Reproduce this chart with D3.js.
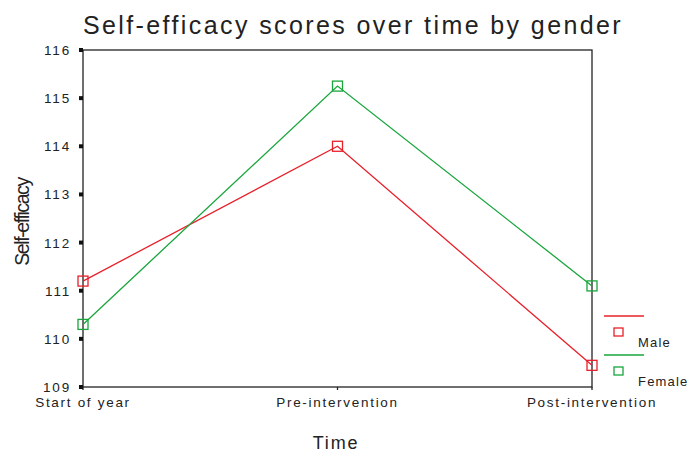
<!DOCTYPE html>
<html>
<head>
<meta charset="utf-8">
<script src="https://cdn.jsdelivr.net/npm/d3@7"></script>
<style>
  body { margin: 0; background: #fff; }
  text { font-family: "Liberation Sans", Arial, sans-serif; fill: #222; }
</style>
</head>
<body>
<div id="chart"></div>
<script>
// data
const categories = ["Start of year", "Pre-intervention", "Post-intervention"];
const maleScores = [111.2, 114.0, 109.45];
const femaleScores = [110.3, 115.25, 111.1];
const yTicks = [109, 110, 111, 112, 113, 114, 115, 116];

const series = [
  { name: "Male", values: maleScores, color: "#e8202a" },
  { name: "Female", values: femaleScores, color: "#18a63c" }
];

const width = 688, height = 452;
const margins = { top: 50, bottom: 65, left: 83, right: 96 };

const svg = d3.select("#chart").append("svg")
  .attr("width", width)
  .attr("height", height);

const xScale = d3.scalePoint()
  .domain(categories)
  .range([margins.left, width - margins.right]);

const yScale = d3.scaleLinear()
  .domain([109, 116])
  .range([height - margins.bottom, margins.top]);

// title
svg.append("text")
  .attr("x", 353).attr("y", 34)
  .attr("text-anchor", "middle")
  .attr("font-size", 25)
  .attr("letter-spacing", 2.4)
  .text("Self-efficacy scores over time by gender");

// frame
svg.append("rect")
  .attr("x", margins.left).attr("y", margins.top)
  .attr("width", width - margins.right - margins.left)
  .attr("height", height - margins.bottom - margins.top)
  .attr("fill", "none").attr("stroke", "#222").attr("stroke-width", 1.3);

// y axis: square tick marks and labels
const yAxis = svg.append("g");
yAxis.selectAll("rect")
  .data(yTicks)
  .join("rect")
  .attr("x", margins.left - 4)
  .attr("y", d => yScale(d) - 2)
  .attr("width", 4).attr("height", 4)
  .attr("fill", "#111");
yAxis.selectAll("text")
  .data(yTicks)
  .join("text")
  .attr("x", margins.left - 12)
  .attr("y", d => yScale(d) + 5)
  .attr("text-anchor", "end")
  .attr("font-size", 13.5)
  .attr("letter-spacing", 1.8)
  .text(d => d);

// x axis ticks and labels
const xAxis = svg.append("g");
xAxis.selectAll("line")
  .data(categories)
  .join("line")
  .attr("x1", d => xScale(d)).attr("x2", d => xScale(d))
  .attr("y1", height - margins.bottom).attr("y2", height - margins.bottom + 3)
  .attr("stroke", "#222").attr("stroke-width", 1.3);
xAxis.selectAll("text")
  .data(categories)
  .join("text")
  .attr("x", d => xScale(d))
  .attr("y", height - margins.bottom + 20)
  .attr("text-anchor", "middle")
  .attr("font-size", 13.5)
  .attr("letter-spacing", 1.7)
  .text(d => d);

// axis titles
svg.append("text")
  .attr("x", 336).attr("y", 449)
  .attr("text-anchor", "middle")
  .attr("font-size", 18)
  .attr("letter-spacing", 1.8)
  .text("Time");

svg.append("text")
  .attr("transform", "translate(29,222) rotate(-90)")
  .attr("text-anchor", "middle")
  .attr("font-size", 19.5)
  .attr("letter-spacing", -1.4)
  .text("Self-efficacy");

// lines + markers
const line = d3.line()
  .x((d, i) => xScale(categories[i]))
  .y(d => yScale(d));

const groups = svg.selectAll("g.series")
  .data(series)
  .join("g")
  .attr("class", "series");

groups.append("path")
  .attr("d", d => line(d.values))
  .attr("fill", "none")
  .attr("stroke", d => d.color)
  .attr("stroke-width", 1.3);

groups.each(function(s) {
  d3.select(this).selectAll("rect")
    .data(s.values)
    .join("rect")
    .attr("x", (d, i) => xScale(categories[i]) - 5)
    .attr("y", d => yScale(d) - 5)
    .attr("width", 10).attr("height", 10)
    .attr("fill", "none")
    .attr("stroke", s.color)
    .attr("stroke-width", 1.3);
});

// legend
const legend = svg.append("g")
  .selectAll("g")
  .data(series)
  .join("g")
  .attr("transform", (d, i) => `translate(604,${316 + i * 39})`);

legend.append("line")
  .attr("x1", 0).attr("x2", 40)
  .attr("stroke", d => d.color).attr("stroke-width", 1.3);
legend.append("rect")
  .attr("x", 10).attr("y", 12)
  .attr("width", 9).attr("height", 8)
  .attr("fill", "none").attr("stroke", d => d.color).attr("stroke-width", 1.3);
legend.append("text")
  .attr("x", 34).attr("y", 31)
  .attr("font-size", 13)
  .attr("letter-spacing", 1.2)
  .text(d => d.name);
</script>
</body>
</html>
